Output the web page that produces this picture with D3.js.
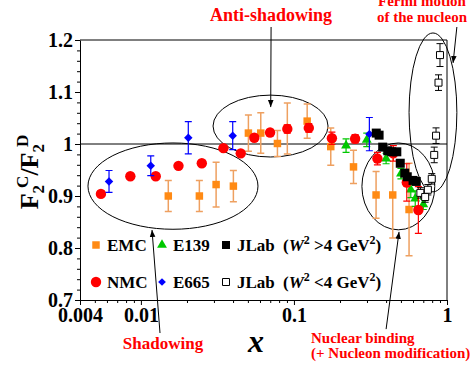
<!DOCTYPE html>
<html>
<head>
<meta charset="utf-8">
<script src="https://cdn.jsdelivr.net/npm/d3@7"></script>
<style>
  body { margin: 0; background: #fff; }
  svg { display: block; }
  svg text { font-family: "Liberation Serif", "Times New Roman", Times, serif; }
</style>
</head>
<body>
<svg id="chart" width="472" height="371"></svg>
<script>
// each point: [x, F2C/F2D, error]
var emc = [[0.0151,0.900,0.030],[0.0241,0.900,0.030],[0.0310,0.922,0.043],[0.0402,0.919,0.030],
  [0.0504,1.021,0.035],[0.0607,1.021,0.039],[0.078,1.001,0.025],[0.0905,1.030,0.049],
  [0.122,1.044,0.033],[0.174,0.995,0.036],[0.245,0.956,0.032],[0.344,0.902,0.045],
  [0.442,0.902,0.083],[0.565,0.874,0.089]];
var nmc = [[0.00548,0.904,0.005],[0.00853,0.938,0.005],[0.0125,0.938,0.005],[0.0176,0.958,0.005],
  [0.0250,0.963,0.005],[0.0346,0.992,0.005],[0.0449,0.982,0.005],[0.0551,1.012,0.006],
  [0.0698,1.022,0.006],[0.0905,1.029,0.008],[0.125,1.031,0.008],[0.177,1.011,0.012],
  [0.251,1.010,0.008],[0.351,0.972,0.012],[0.446,0.982,0.015],[0.546,0.926,0.036],[0.650,0.873,0.045]];
var e665 = [[0.00619,0.928,0.021],[0.0116,0.958,0.019],[0.0204,1.012,0.031],[0.0398,1.016,0.027],[0.311,1.019,0.032]];
var e139 = [[0.219,0.997,0.013],[0.299,1.008,0.013],[0.400,0.972,0.010],[0.50,0.943,0.010],
  [0.58,0.912,0.015],[0.62,0.895,0.015],[0.70,0.884,0.010]];
var jlabHi = [[0.345,1.021,0.004],[0.36,1.017,0.004],[0.38,0.994,0.004],[0.41,0.987,0.004],
  [0.435,0.985,0.004],[0.47,0.985,0.004],[0.495,0.963,0.004],[0.53,0.944,0.004],
  [0.55,0.937,0.004],[0.60,0.930,0.004],[0.63,0.928,0.004]];
var jlabLo = [[0.67,0.906,0.010],[0.72,0.898,0.010],[0.75,0.912,0.010],[0.795,0.933,0.010],
  [0.825,0.979,0.015],[0.848,1.016,0.015],[0.88,1.118,0.015],[0.90,1.171,0.022]];

var xTicks = [0.004, 0.01, 0.1, 1];
var xTickLabels = ["0.004", "0.01", "0.1", "1"];
var yTicks = [0.7, 0.8, 0.9, 1.0, 1.1, 1.2];
var yTickLabels = ["0.7", "0.8", "0.9", "1", "1.1", "1.2"];

var svg = d3.select("#chart");
var mLeft = 80, mRight = 447, mTop = 40, mBottom = 300;

var x = d3.scaleLog().domain([0.004, 1]).range([mLeft, mRight]);
var y = d3.scaleLinear().domain([0.7, 1.2]).range([mBottom, mTop]);

// minor ticks
var xMinor = [];
[0.001, 0.01, 0.1].forEach(function(d) {
  for (var k = 2; k <= 9; k++) { var v = d * k; if (v > 0.0041 && v < 0.99) xMinor.push(v); }
});
var yMinor = d3.range(0.72, 1.2, 0.02);

svg.append("g")
  .attr("transform", "translate(0," + mBottom + ")")
  .call(d3.axisBottom(x).tickValues(xMinor).tickSize(3).tickFormat(""))
  .call(function(g) { g.select(".domain").remove(); g.selectAll("line").attr("stroke", "#000"); });
svg.append("g")
  .attr("transform", "translate(" + mLeft + ",0)")
  .call(d3.axisLeft(y).tickValues(yMinor).tickSize(3).tickFormat(""))
  .call(function(g) { g.select(".domain").remove(); g.selectAll("line").attr("stroke", "#000"); });

var xAxis = svg.append("g")
  .attr("transform", "translate(0," + mBottom + ")")
  .call(d3.axisBottom(x).tickValues(xTicks).tickSize(5).tickSizeOuter(0).tickPadding(3)
    .tickFormat(function(d, i) { return xTickLabels[i]; }));
var yAxis = svg.append("g")
  .attr("transform", "translate(" + mLeft + ",0)")
  .call(d3.axisLeft(y).tickValues(yTicks).tickSize(5).tickSizeOuter(0).tickPadding(2)
    .tickFormat(function(d, i) { return yTickLabels[i]; }));
[xAxis, yAxis].forEach(function(g) {
  g.attr("font-family", null).attr("font-size", 20).attr("font-weight", "bold");
  g.selectAll("text").attr("fill", "#000");
  g.select(".domain").attr("stroke", "#000");
  g.selectAll("line").attr("stroke", "#000");
});

// frame and unity line
svg.append("path").attr("fill", "none").attr("stroke", "#000")
  .attr("d", "M" + mLeft + "," + mTop + "H" + mRight + "V" + mBottom);
svg.append("line").attr("stroke", "#000")
  .attr("x1", x(0.004)).attr("x2", x(1)).attr("y1", y(1)).attr("y2", y(1));

// ellipses, given as data-space bounding boxes [x0, x1, y0, y1]
var ellipses = [[0.00451, 0.0582, 0.836, 1.002], [0.0296, 0.167, 0.975, 1.094],
  [0.278, 0.832, 0.835, 1.002], [0.565, 1.16, 0.908, 1.2135]];
svg.selectAll(".ell").data(ellipses).enter().append("ellipse")
  .attr("fill", "none").attr("stroke", "#000").attr("stroke-width", 1)
  .attr("cx", function(d) { return (x(d[0]) + x(d[1])) / 2; })
  .attr("cy", function(d) { return (y(d[2]) + y(d[3])) / 2; })
  .attr("rx", function(d) { return (x(d[1]) - x(d[0])) / 2; })
  .attr("ry", function(d) { return (y(d[2]) - y(d[3])) / 2; });

function errorBars(data, color, width) {
  var g = svg.append("g").attr("stroke", color).attr("stroke-width", width || 1.2).attr("fill", "none");
  data.forEach(function(d) {
    var cx = x(d[0]), y0 = y(d[1] - d[2]), y1 = y(d[1] + d[2]);
    g.append("path").attr("d", "M" + cx + "," + y0 + "V" + y1 +
      "M" + (cx - 3.5) + "," + y0 + "H" + (cx + 3.5) + "M" + (cx - 3.5) + "," + y1 + "H" + (cx + 3.5));
  });
}
function markers(data, type, size, fill, stroke, rot) {
  var sym = d3.symbol().type(type).size(size);
  svg.append("g").selectAll("path").data(data).enter().append("path")
    .attr("d", sym)
    .attr("transform", function(d) { return "translate(" + x(d[0]) + "," + y(d[1]) + ")" + (rot ? " rotate(" + rot + ")" : ""); })
    .attr("fill", fill).attr("stroke", stroke || "none");
}

var cEMC = "#ff8a14", cEMCbar = "#eea060", cNMC = "#ff0000", cE665 = "#0000ff", cE139 = "#00c800";

errorBars(emc, cEMCbar, 1.5);
markers(emc, d3.symbolSquare, 56, cEMC);
errorBars(e139, cE139, 1.2);
markers(e139, d3.symbolTriangle, 42, cE139);
errorBars(nmc, cNMC, 1.2);
markers(nmc, d3.symbolCircle, 85, cNMC);
errorBars(e665, cE665, 1.2);
markers(e665, d3.symbolSquare, 36, cE665, null, 45);
errorBars(jlabHi, "#000", 1);
markers(jlabHi, d3.symbolSquare, 81, "#000");
errorBars(jlabLo, "#000", 1);
markers(jlabLo, d3.symbolSquare, 49, "#fff", "#000");

// legend
var leg = svg.append("g").attr("font-size", 17).attr("font-weight", "bold");
function legendItem(px, py, type, size, fill, stroke, rot, label) {
  leg.append("path").attr("d", d3.symbol().type(type).size(size))
    .attr("transform", "translate(" + px + "," + py + ")" + (rot ? " rotate(" + rot + ")" : ""))
    .attr("fill", fill).attr("stroke", stroke || "none");
  leg.append("text").attr("x", px + 11).attr("y", py + 6).text(label);
}
legendItem(96, 245, d3.symbolSquare, 56, cEMC, null, 0, "EMC");
legendItem(162, 245, d3.symbolTriangle, 42, cE139, null, 0, "E139");
legendItem(226, 245, d3.symbolSquare, 64, "#000", null, 0, "JLab");
legendItem(96, 282, d3.symbolCircle, 85, cNMC, null, 0, "NMC");
legendItem(162, 282, d3.symbolSquare, 30, cE665, null, 45, "E665");
legendItem(226, 282, d3.symbolSquare, 49, "#fff", "#000", 0, "JLab");

function wLabel(py, op) {
  var t = leg.append("text").attr("x", 283).attr("y", py + 6);
  t.append("tspan").text("(");
  t.append("tspan").attr("font-style", "italic").text("W");
  t.append("tspan").attr("font-size", 12).attr("dy", -7).text("2");
  t.append("tspan").attr("dy", 7).text(" " + op + "4 GeV");
  t.append("tspan").attr("font-size", 12).attr("dy", -7).text("2");
  t.append("tspan").attr("dy", 7).text(")");
}
wLabel(245, ">");
wLabel(282, "<");

// axis titles
var yt = svg.append("text").attr("transform", "translate(38,172) rotate(-90)")
  .attr("text-anchor", "middle").attr("font-weight", "bold").attr("font-size", 26);
yt.append("tspan").text("F");
yt.append("tspan").attr("font-size", 17).attr("dy", 6).text("2");
yt.append("tspan").attr("font-size", 17).attr("dy", -16).attr("dx", -3).text("C");
yt.append("tspan").attr("dy", 10).text("/F");
yt.append("tspan").attr("font-size", 17).attr("dy", 6).text("2");
yt.append("tspan").attr("font-size", 17).attr("dy", -16).attr("dx", -3).text("D");

svg.append("text").attr("x", 256).attr("y", 352).attr("text-anchor", "middle")
  .attr("font-size", 32).attr("font-weight", "bold").attr("font-style", "italic").text("x");

// annotations
svg.append("defs").append("marker").attr("id", "arr")
  .attr("viewBox", "0 0 10 10").attr("refX", 10).attr("refY", 5)
  .attr("markerWidth", 7).attr("markerHeight", 7).attr("orient", "auto")
  .append("path").attr("d", "M0,1L10,5L0,9z").attr("fill", "#000");

var arrows = [[0.0709, 1.225, 0.0705, 1.071], [1.16, 1.225, 1.096, 1.156],
  [0.01333, 0.6365, 0.01182, 0.8346], [0.40, 0.644, 0.486, 0.831]];
svg.selectAll(".arrow").data(arrows).enter().append("line")
  .attr("stroke", "#000").attr("stroke-width", 1)
  .attr("x1", function(d) { return x(d[0]); }).attr("y1", function(d) { return y(d[1]); })
  .attr("x2", function(d) { return x(d[2]); }).attr("y2", function(d) { return y(d[3]); })
  .attr("marker-end", "url(#arr)");

var notes = svg.append("g").attr("fill", "#ff0000").attr("font-weight", "bold");
notes.append("text").attr("x", 271).attr("y", 21).attr("font-size", 18).attr("text-anchor", "middle").text("Anti-shadowing");
notes.append("text").attr("x", 422).attr("y", 6).attr("font-size", 15).attr("text-anchor", "middle").text("Fermi motion");
notes.append("text").attr("x", 422).attr("y", 22).attr("font-size", 15).attr("text-anchor", "middle").text("of the nucleon");
notes.append("text").attr("x", 163).attr("y", 349).attr("font-size", 17).attr("text-anchor", "middle").text("Shadowing");
notes.append("text").attr("x", 311).attr("y", 343).attr("font-size", 15).text("Nuclear binding");
notes.append("text").attr("x", 311).attr("y", 358).attr("font-size", 15).text("(+ Nucleon modification)");
</script>
</body>
</html>
